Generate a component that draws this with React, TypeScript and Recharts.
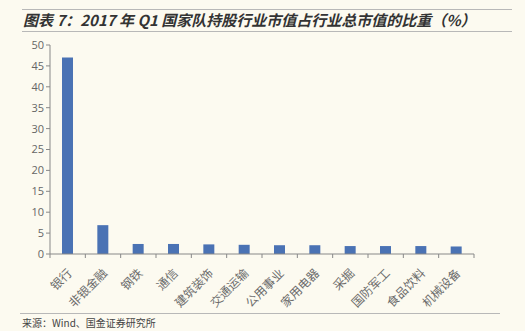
import { BarChart, Bar, XAxis, YAxis } from "recharts";

const industries = [
  "银行",
  "非银金融",
  "钢铁",
  "通信",
  "建筑装饰",
  "交通运输",
  "公用事业",
  "家用电器",
  "采掘",
  "国防军工",
  "食品饮料",
  "机械设备",
];
const shares = [47.0, 6.9, 2.4, 2.4, 2.3, 2.2, 2.1, 2.1, 1.9, 1.9, 1.9, 1.8];
const yTicks = [0, 5, 10, 15, 20, 25, 30, 35, 40, 45, 50];

const data = industries.map((name, i) => ({ name, value: shares[i] }));

const cjk = '"Noto Sans CJK SC", sans-serif';

function CategoryTick(props: any) {
  const { x, y, payload, index } = props;
  const off = payload.offset ?? 0;
  const last = index === industries.length - 1;
  const tx = x + 5;
  const ty = y + 12;
  return (
    <g>
      <line x1={x - off} x2={x - off} y1={y - 8} y2={y - 4} stroke="#888" />
      {last && <line x1={x + off} x2={x + off} y1={y - 8} y2={y - 4} stroke="#888" />}
      <text
        x={tx}
        y={ty}
        textAnchor="end"
        transform={`rotate(-45, ${tx}, ${ty})`}
        fontSize={12}
        fontFamily={cjk}
        fill="#6b6b6b"
      >
        {payload.value}
      </text>
    </g>
  );
}

export default function App() {
  return (
    <div
      style={{
        position: "absolute",
        left: 0,
        top: 0,
        width: 525,
        height: 331,
        background: "#fcfaf0",
        fontFamily: cjk,
      }}
    >
      <div style={{ position: "absolute", left: 22, top: 9, width: 490, borderTop: "1px solid #b8b8b8" }} />
      <div
        style={{
          position: "absolute",
          left: 23,
          top: 10,
          fontSize: 15,
          lineHeight: "20px",
          fontWeight: 700,
          fontStyle: "italic",
          color: "#333",
          whiteSpace: "nowrap",
        }}
      >
        图表 7：2017 年 Q1 国家队持股行业市值占行业总市值的比重（%）
      </div>
      <div style={{ position: "absolute", left: 22, top: 31, width: 490, borderTop: "1px solid #b8b8b8" }} />

      <BarChart
        width={525}
        height={331}
        data={data}
        margin={{ top: 45, right: 51, bottom: 7, left: 10 }}
      >
        <XAxis
          dataKey="name"
          interval={0}
          tick={<CategoryTick />}
          tickLine={false}
          axisLine={{ stroke: "#888" }}
          height={70}
        />
        <YAxis
          domain={[0, 50]}
          ticks={yTicks}
          interval={0}
          width={40}
          tick={{ fontSize: 11, fill: "#666", fontFamily: '"Open Sans", sans-serif' }}
          tickSize={4}
          tickLine={{ stroke: "#888" }}
          axisLine={{ stroke: "#888" }}
        />
        <Bar dataKey="value" fill="#4a72b4" barSize={11} isAnimationActive={false} />
      </BarChart>

      <div style={{ position: "absolute", left: 20, top: 313, width: 480, borderTop: "1px solid #b8b8b8" }} />
      <div
        style={{
          position: "absolute",
          left: 22,
          top: 315,
          fontSize: 10,
          color: "#444",
          whiteSpace: "nowrap",
        }}
      >
        来源：Wind、国金证券研究所
      </div>
    </div>
  );
}
